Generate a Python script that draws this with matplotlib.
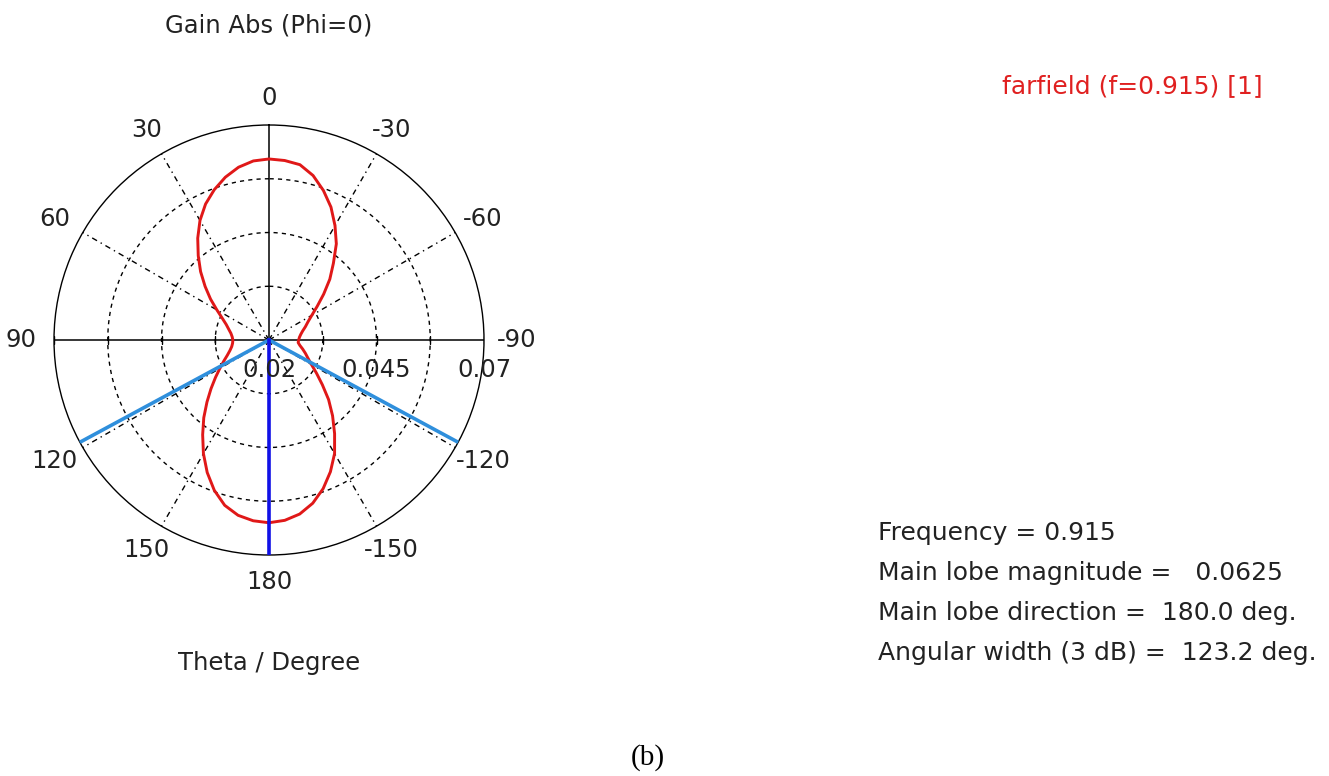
import numpy as np
import matplotlib
matplotlib.use("Agg")
import matplotlib.pyplot as plt

# ---------------- data ----------------
theta_deg = [-180, -175, -170, -165, -160, -155, -150, -145, -140, -135, -130, -125,
             -120, -115, -110, -105, -100, -95, -90, -85, -80, -75, -70, -65, -60,
             -55, -50, -45, -40, -35, -30, -25, -20, -15, -10, -5,
             0, 5, 10, 15, 20, 25, 30, 35, 40, 45, 50, 55, 60, 65, 70, 75, 80, 85,
             90, 95, 100, 105, 110, 115, 120, 125, 130, 135, 140, 145, 150, 155, 160,
             165, 170, 175, 180]
gain_abs = [0.0625, 0.0621, 0.0611, 0.0593, 0.0568, 0.0538, 0.0505, 0.0466, 0.0430,
            0.0396, 0.0362, 0.0335, 0.0314, 0.0300, 0.0290, 0.0281, 0.0273, 0.0268,
            0.0269, 0.0271, 0.0275, 0.0281, 0.0290, 0.0300, 0.0315, 0.0337, 0.0366,
            0.0400, 0.0433, 0.0473, 0.0507, 0.0541, 0.0570, 0.0596, 0.0614, 0.0619,
            0.0621, 0.0618, 0.0608, 0.0592, 0.0572, 0.0549, 0.0521, 0.0489, 0.0456,
            0.0425, 0.0394, 0.0366, 0.0340, 0.0320, 0.0306, 0.0297, 0.0290, 0.0286,
            0.0284, 0.0285, 0.0288, 0.0294, 0.0303, 0.0316, 0.0332, 0.0352, 0.0376,
            0.0404, 0.0436, 0.0469, 0.0505, 0.0540, 0.0572, 0.0598, 0.0614, 0.0622,
            0.0625]

angle_ticks = [0, 30, 60, 90, 120, 150, 180, -150, -120, -90, -60, -30]
angle_labels = ["0", "30", "60", "90", "120", "150", "180", "-150", "-120", "-90", "-60", "-30"]
r_min, r_max = 0.02, 0.07
ring_values = [0.0325, 0.045, 0.0575]
radial_label_values = [0.02, 0.045, 0.07]
radial_labels = ["0.02", "0.045", "0.07"]

main_lobe_dir = 180.0
main_lobe_mag = 0.0625
angular_width = 123.2
frequency = 0.915

# ---------------- figure ----------------
W, H = 1329, 776
fig = plt.figure(figsize=(W / 100, H / 100), dpi=100)
fig.patch.set_facecolor("white")
plt.rcParams['font.family'] = ['DejaVu Sans']

cx, cy, R = 269, 340, 215
ax = fig.add_axes([(cx - R) / W, 1 - (cy + R) / H, 2 * R / W, 2 * R / H], projection="polar")
ax.set_theta_zero_location("N")
ax.set_theta_direction(1)
ax.set_rlim(r_min, r_max)
ax.grid(False)
ax.set_xticks([])
ax.set_yticks([])
ax.spines["polar"].set_linewidth(1.0)
ax.spines["polar"].set_color("black")

full = np.linspace(0, 2 * np.pi, 361)
for rv in ring_values:
    ax.plot(full, [rv] * len(full), color="black", lw=1.0, ls=(0, (3, 3)), zorder=1)

for a in range(0, 360, 30):
    t = np.deg2rad(a)
    if a % 90 == 0:
        ax.plot([t, t], [r_min, r_max], color="black", lw=1.1, zorder=2)
    else:
        ax.plot([t, t], [r_min, r_max], color="black", lw=1.0, ls=(0, (4, 3, 1, 3)), zorder=1)

# tick marks on horizontal axis
for rv in ring_values + [r_max]:
    for a in (90, -90):
        ax.plot([np.deg2rad(a)], [rv], marker="|", color="black", ms=6, mew=1.0, zorder=2)

# pattern
ax.plot(np.deg2rad(theta_deg), gain_abs, color="#e01818", lw=2.1, zorder=4)

# 3 dB lines and main lobe
for a in (main_lobe_dir - angular_width / 2, main_lobe_dir + angular_width / 2):
    ax.plot([np.deg2rad(a)] * 2, [r_min, r_max], color="#2f8fdc", lw=2.6, zorder=5)
ax.plot([np.deg2rad(main_lobe_dir)] * 2, [r_min, r_max], color="#1010e6", lw=2.6, zorder=6)

def ftext(x, y, s, **kw):
    fig.text(x / W, 1 - y / H, s, **kw)

fs = 17.5
rl, k = 242, 6
for a, lab in zip(angle_ticks, angle_labels):
    t = np.deg2rad(a)
    px = cx + (-np.sin(t)) * (rl + k * abs(np.sin(t)))
    py = cy - np.cos(t) * rl
    ftext(px, py, lab, ha="center", va="center", fontsize=fs, color="#222222")

for rv, lab in zip(radial_label_values, radial_labels):
    x = cx + (rv - r_min) / (r_max - r_min) * R
    ftext(x, 370, lab, ha="center", va="center", fontsize=fs, color="#222222")

ftext(269, 25, "Gain Abs (Phi=0)", ha="center", va="center", fontsize=fs, color="#222222")
ftext(269, 663, "Theta / Degree", ha="center", va="center", fontsize=fs, color="#222222")
ftext(1002, 86, "farfield (f=%g) [1]" % frequency, ha="left", va="center", fontsize=18, color="#e02020")

info = ["Frequency = %g" % frequency,
        "Main lobe magnitude =   %g" % main_lobe_mag,
        "Main lobe direction =  %.1f deg." % main_lobe_dir,
        "Angular width (3 dB) =  %.1f deg." % angular_width]
for i, line in enumerate(info):
    ftext(878, 533 + 40 * i, line, ha="left", va="center", fontsize=18, color="#222222")

ftext(648, 758, "(b)", ha="center", va="center", fontsize=21, color="black",
      family="Liberation Serif")

fig.savefig("out.png", dpi=100, facecolor="white")
